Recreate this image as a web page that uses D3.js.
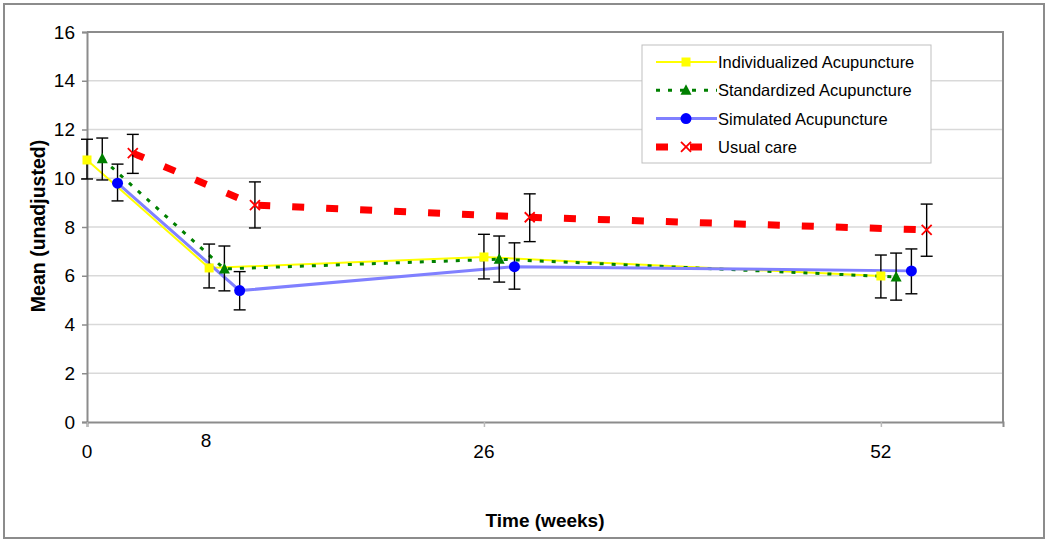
<!DOCTYPE html>
<html>
<head>
<meta charset="utf-8">
<script src="https://cdn.jsdelivr.net/npm/d3@7"></script>
<style>
  body { margin: 0; background: #fff; }
  svg { display: block; font-family: "Liberation Sans", Arial, sans-serif; }
</style>
</head>
<body>
<div id="chart"></div>
<script>
// 数据
var weeks = [0, 8, 26, 52]
var seriesNames = ['Individualized Acupuncture', 'Standardized Acupuncture', 'Simulated Acupuncture', 'Usual care']
// each series is drawn shifted by a few weeks so the bars don't overlap
var weekShift = [0, 1, 2, 3]
var individualized = [10.75, 6.32, 6.77, 5.99]
var individualizedLow = [9.97, 5.5, 5.87, 5.09]
var individualizedHigh = [11.6, 7.3, 7.7, 6.85]
var standardized = [10.8, 6.28, 6.68, 5.95]
var standardizedLow = [9.93, 5.38, 5.74, 5.0]
var standardizedHigh = [11.65, 7.22, 7.63, 6.93]
var simulated = [9.8, 5.39, 6.37, 6.2]
var simulatedLow = [9.07, 4.6, 5.45, 5.26]
var simulatedHigh = [10.58, 6.17, 7.35, 7.1]
var usualCare = [11.03, 8.9, 8.4, 7.88]
var usualCareLow = [10.2, 7.96, 7.4, 6.8]
var usualCareHigh = [11.8, 9.85, 9.36, 8.94]
var yTicks = [0, 2, 4, 6, 8, 10, 12, 14, 16]
var xTickWeeks = [0, 26, 52]
var xLabels = ['0', '8', '26', '52']

var width = 1050
var height = 542
var plot = { left: 87, right: 1003, top: 32, bottom: 422 }

var svg = d3.select('#chart').append('svg')
  .attr('width', width)
  .attr('height', height)

// 外框
svg.append('rect')
  .attr('x', 4).attr('y', 4)
  .attr('width', 1040).attr('height', 534)
  .attr('fill', '#fff')
  .attr('stroke', '#8c8c8c')
  .attr('stroke-width', 2)

var x = d3.scaleLinear().domain([0, 60]).range([plot.left, plot.right])
var y = d3.scaleLinear().domain([0, 16]).range([plot.bottom, plot.top])

// 网格线
svg.append('g')
  .selectAll('line')
  .data(yTicks.slice(1))
  .enter()
  .append('line')
  .attr('x1', plot.left).attr('x2', plot.right)
  .attr('y1', function (d) { return y(d) })
  .attr('y2', function (d) { return y(d) })
  .attr('stroke', '#d9d9d9')
  .attr('stroke-width', 1.5)

// plot border on top and right
svg.append('path')
  .attr('d', 'M' + plot.left + ',' + plot.top + 'H' + plot.right + 'V' + plot.bottom)
  .attr('fill', 'none')
  .attr('stroke', '#8c8c8c')
  .attr('stroke-width', 2)

// y 轴
var yAxis = svg.append('g')
  .attr('transform', 'translate(' + plot.left + ',0)')
  .call(d3.axisLeft(y).tickValues(yTicks).tickSize(5).tickPadding(7))
yAxis.select('.domain').attr('stroke', '#8c8c8c').attr('stroke-width', 2)
yAxis.selectAll('.tick line').attr('stroke', '#8c8c8c').attr('stroke-width', 1.5)
yAxis.selectAll('.tick text')
  .attr('font-size', 19)
  .attr('font-family', '"Liberation Sans", Arial, sans-serif')
  .attr('fill', '#000')

// x 轴
var xAxis = svg.append('g')
  .attr('transform', 'translate(0,' + plot.bottom + ')')
  .call(d3.axisBottom(x).tickValues(xTickWeeks).tickSize(5).tickFormat(''))
xAxis.select('.domain').attr('stroke', '#8c8c8c').attr('stroke-width', 2)
xAxis.selectAll('.tick line').attr('stroke', '#bbb').attr('stroke-width', 1.5)

// tick labels placed at the study weeks ("8" sits a bit higher, like the original)
svg.append('g')
  .selectAll('text')
  .data(weeks)
  .enter()
  .append('text')
  .attr('x', function (d) { return x(d) - (d === 8 ? 3 : 0) })
  .attr('y', function (d) { return d === 8 ? 447 : 458 })
  .attr('text-anchor', 'middle')
  .attr('font-size', 19)
  .text(function (d, i) { return xLabels[i] })

// 坐标轴标题
svg.append('text')
  .attr('transform', 'translate(45,226) rotate(-90)')
  .attr('text-anchor', 'middle')
  .attr('font-size', 19.5)
  .attr('font-weight', 'bold')
  .text('Mean (unadjusted)')

svg.append('text')
  .attr('x', 545)
  .attr('y', 527)
  .attr('text-anchor', 'middle')
  .attr('font-size', 19)
  .attr('font-weight', 'bold')
  .text('Time (weeks)')

var series = [
  { name: seriesNames[0], values: individualized, low: individualizedLow, high: individualizedHigh, shift: weekShift[0],
    line: '#ffff00', width: 2, dash: null, marker: 'square', color: '#ffff00' },
  { name: seriesNames[1], values: standardized, low: standardizedLow, high: standardizedHigh, shift: weekShift[1],
    line: '#008000', width: 3, dash: '4,8', marker: 'triangle', color: '#008000' },
  { name: seriesNames[2], values: simulated, low: simulatedLow, high: simulatedHigh, shift: weekShift[2],
    line: '#8080ff', width: 3, dash: null, marker: 'circle', color: '#0000ff' },
  { name: seriesNames[3], values: usualCare, low: usualCareLow, high: usualCareHigh, shift: weekShift[3],
    line: '#ff0000', width: 7, dash: '12,22', marker: 'cross', color: '#ff0000' }
]

function drawMarker (g, kind, cx, cy, color) {
  if (kind === 'square') {
    g.append('rect').attr('x', cx - 4.5).attr('y', cy - 4.5)
      .attr('width', 9).attr('height', 9).attr('fill', color)
  } else if (kind === 'triangle') {
    g.append('path')
      .attr('d', 'M' + cx + ',' + (cy - 6) + 'L' + (cx + 5.5) + ',' + (cy + 4.5) + 'L' + (cx - 5.5) + ',' + (cy + 4.5) + 'Z')
      .attr('fill', color)
  } else if (kind === 'circle') {
    g.append('circle').attr('cx', cx).attr('cy', cy).attr('r', 5.5).attr('fill', color)
  } else {
    g.append('path')
      .attr('d', 'M' + (cx - 5) + ',' + (cy - 5) + 'L' + (cx + 5) + ',' + (cy + 5) + 'M' + (cx + 5) + ',' + (cy - 5) + 'L' + (cx - 5) + ',' + (cy + 5))
      .attr('stroke', color).attr('stroke-width', 1.8).attr('fill', 'none')
  }
}

var line = d3.line()
  .x(function (d) { return x(d.week) })
  .y(function (d) { return y(d.value) })

// 折线
series.forEach(function (s) {
  var pts = weeks.map(function (w, i) { return { week: w + s.shift, value: s.values[i] } })
  svg.append('path')
    .datum(pts)
    .attr('d', line)
    .attr('fill', 'none')
    .attr('stroke', s.line)
    .attr('stroke-width', s.width)
    .attr('stroke-dasharray', s.dash)
})

// 误差线
series.forEach(function (s) {
  var g = svg.append('g')
  weeks.forEach(function (w, i) {
    var cx = x(w + s.shift)
    g.append('line')
      .attr('x1', cx).attr('x2', cx)
      .attr('y1', y(s.low[i])).attr('y2', y(s.high[i]))
      .attr('stroke', '#000').attr('stroke-width', 1.4)
    ;[s.low[i], s.high[i]].forEach(function (v) {
      g.append('line')
        .attr('x1', cx - 6).attr('x2', cx + 6)
        .attr('y1', y(v)).attr('y2', y(v))
        .attr('stroke', '#000').attr('stroke-width', 1.4)
    })
  })
})

// 标记点
series.forEach(function (s) {
  var g = svg.append('g')
  weeks.forEach(function (w, i) {
    drawMarker(g, s.marker, x(w + s.shift), y(s.values[i]), s.color)
  })
})

// 图例
var legend = svg.append('g').attr('transform', 'translate(642,45)')
legend.append('rect')
  .attr('width', 289).attr('height', 118)
  .attr('fill', '#fff')
  .attr('stroke', '#bfbfbf')
  .attr('stroke-width', 1)
series.forEach(function (s, i) {
  var ly = 17 + i * 28.3
  legend.append('line')
    .attr('x1', 14).attr('x2', 75)
    .attr('y1', ly).attr('y2', ly)
    .attr('stroke', s.line)
    .attr('stroke-width', s.width)
    .attr('stroke-dasharray', s.dash)
  drawMarker(legend, s.marker, 44, ly, s.color)
  legend.append('text')
    .attr('x', 76)
    .attr('y', ly + 6)
    .attr('font-size', 16.5)
    .text(s.name)
})
</script>
</body>
</html>
